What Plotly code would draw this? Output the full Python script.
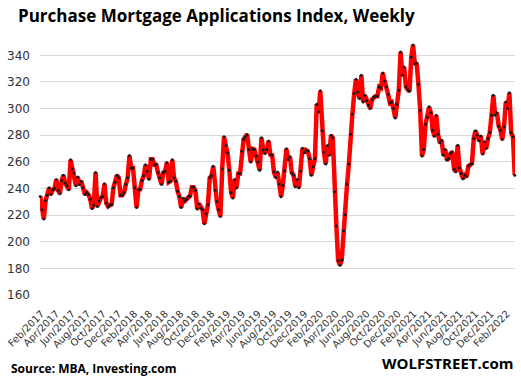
import plotly.graph_objects as go
import pandas as pd

start_date = "2017-01-27"

seg1 = [234, 224, 217, 231, 235, 240.5, 235.5, 239, 240, 246.7, 238.5, 236, 246, 250, 244, 242, 239,
        261.5, 254.6, 251.6, 242, 248.6, 243, 245.5, 240.5, 235.5, 237, 235.5, 232, 225, 227.5, 252,
        226.5, 230.6, 233, 234, 243.5, 229, 226.5, 227.5, 228]
seg2 = [240.5, 244.7, 250, 248, 235, 235, 237, 243, 248, 264.7, 255.3, 255.3, 240.5, 225.7, 239,
        239.3, 246, 249.6, 257.8, 253, 247, 262, 262, 257.8, 257.8, 252, 248, 243, 252, 253, 259.5,
        244.7, 245.5, 261.5, 248, 245.5, 238, 234, 225.7, 232.6, 230.6, 231.9, 234, 234.4]
seg3 = [241, 241, 238.4, 224.5, 228.6, 225.3, 224, 213.5, 221, 227.8, 248, 249.7, 256.7, 238.6,
        230.3, 224, 219, 254.7, 278.9, 272.3, 266.8, 253.7, 237, 232.8, 246.7, 240.4, 251.2, 251.2,
        268, 276.9, 278.9, 280.6, 269.3, 259.8, 269.8, 269.3, 264.3, 259.8, 253.7, 278.1, 268.8,
        266.3, 269.3, 275.6, 265.5]
seg4 = [265, 252.5, 248.3, 252.3, 243.3, 233.8, 242.5, 253.3, 269.8, 261.8, 263.8, 251.8, 250,
        241.3, 246.8, 240.5, 253, 270.3, 266.8, 268.8, 268, 262.5, 250, 256.3, 262.5, 303.3, 297.5,
        313.3, 283.3, 267.3, 258.3, 272.3, 265, 280, 278, 237.5, 211.8, 185.8, 182.3, 186.3, 208.3,
        220.3, 243.3, 258.3]
seg5 = [280.8, 295.8, 311.3, 322, 312.5, 307.5, 325, 305, 310, 305.8, 302.5, 300, 306.8, 308.8,
        309.3, 309.3, 316.3, 315.5, 326.8, 320.8, 316.3, 310.8, 304.3, 305, 300, 293, 303.3, 313.8,
        342.5, 325, 331.3, 316.3, 314.3, 313, 338.8, 347.8, 333.3, 334.3, 318.3, 298.8, 264.3,
        269.3, 288.3, 293.3, 301.3]
seg6 = [296.8, 283.8, 279.3, 295, 280.8, 274.3, 276.3, 265, 269.3, 261.3, 262.5, 266.3, 267.5,
        254.5, 252.5, 272.5, 255.5, 251.3, 247.3, 250, 248.8, 256.8, 258, 258.8, 277.5, 283.3, 280,
        275.8, 279.5, 265.8, 275, 270, 277.5, 282, 295, 310, 295, 296.8, 286.8, 283.8, 276.8, 286.3,
        305, 300, 311.8, 281.8, 278.8, 250]

index_values = seg1 + seg2 + seg3 + seg4 + seg5 + seg6
dates = pd.date_range(start_date, periods=len(index_values), freq="7D")

y_ticks = [160, 180, 200, 220, 240, 260, 280, 300, 320, 340]

title_text = "Purchase Mortgage Applications Index, Weekly"
source_text = "Source: MBA, Investing.com"
brand_text = "WOLFSTREET.com"

fig = go.Figure()
fig.add_trace(go.Scatter(
    x=dates, y=index_values, mode="lines+markers",
    line=dict(color="#ff0000", width=4.5),
    marker=dict(color="#1a1a1a", size=3),
    cliponaxis=False, showlegend=False, hoverinfo="skip",
))

L, R, T, B = 36, 6, 42, 89
W, H = 521, 384
pw, ph = W - L - R, H - T - B

def px(x):
    return (x - L) / pw

def py(y):
    return (H - B - y) / ph

fig.update_layout(
    width=W, height=H,
    margin=dict(l=L, r=R, t=T, b=B),
    paper_bgcolor="white", plot_bgcolor="white",
    font=dict(family="DejaVu Sans", color="#333333"),
    xaxis=dict(
        type="date",
        range=[dates[0] - pd.Timedelta(days=1), dates[-1] + pd.Timedelta(days=1)],
        tick0="2017-02-01", dtick="M2", tickformat="%b/%Y",
        tickangle=-45, tickfont=dict(size=10, color="#333333"),
        showgrid=False, showline=False, zeroline=False, ticks="",
        ticklabelstandoff=10,
    ),
    yaxis=dict(
        range=[160, 350], tickvals=y_ticks,
        tickfont=dict(size=12, color="#333333"),
        showgrid=True, gridcolor="#d9d9d9", gridwidth=1,
        zeroline=False, showline=False, ticks="",
        ticklabelstandoff=9,
    ),
    annotations=[
        dict(text="<b>" + title_text + "</b>", x=px(12), y=py(16), xref="paper", yref="paper",
             xanchor="left", yanchor="middle", showarrow=False,
             font=dict(family="Open Sans", size=17, color="#000000")),
        dict(text="<b>" + source_text + "</b>", x=px(5), y=py(368), xref="paper", yref="paper",
             xanchor="left", yanchor="middle", showarrow=False,
             font=dict(family="Open Sans", size=12, color="#000000")),
        dict(text="<b>" + brand_text + "</b>", x=px(516), y=py(363), xref="paper", yref="paper",
             xanchor="right", yanchor="middle", showarrow=False,
             font=dict(family="Open Sans", size=15, color="#000000")),
    ],
)

fig.write_html(
    "out.html",
    config={"displayModeBar": False},
    post_script="document.body.style.margin='0';document.body.style.overflow='hidden';",
)
